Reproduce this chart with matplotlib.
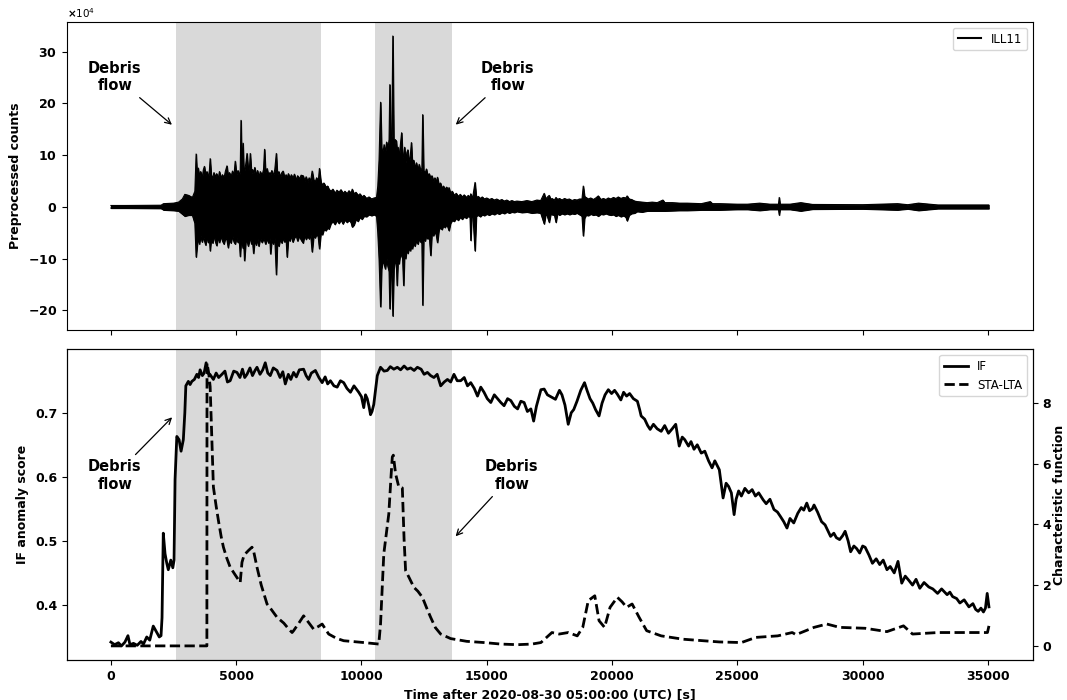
import numpy as np
import matplotlib
matplotlib.use('Agg')
import matplotlib.pyplot as plt
from matplotlib.lines import Line2D

# --- seismic trace envelope, counts x 1e4 (upper / lower edge) ---
trace_t = [0, 600, 2000, 2100, 2500, 2700, 2850, 2950, 3100, 3250,
           3350, 3400, 3440, 3480, 3530, 3580, 3640, 3690, 3730, 3780,
           3830, 3880, 3930, 3960, 4000, 4060, 4110, 4160, 4220, 4280,
           4330, 4390, 4450, 4510, 4570, 4630, 4680, 4730, 4790, 4850,
           4910, 4960, 5010, 5070, 5120, 5160, 5190, 5220, 5270, 5300,
           5330, 5380, 5430, 5480, 5530, 5560, 5610, 5650, 5690, 5740,
           5800, 5850, 5900, 5960, 6030, 6090, 6130, 6170, 6230, 6290,
           6340, 6370, 6420, 6480, 6540, 6600, 6640, 6700, 6760, 6820,
           6870, 6930, 6990, 7030, 7080, 7140, 7200, 7260, 7320, 7390,
           7450, 7520, 7590, 7670, 7730, 7790, 7850, 7910, 7970, 8030,
           8090, 8150, 8210, 8270, 8320, 8380, 8440, 8500, 8580, 8650,
           8700, 8780, 8860, 8940, 9020, 9100, 9180, 9260, 9340, 9420,
           9500, 9580, 9630, 9700, 9780, 9860, 9940, 10020, 10100, 10200,
           10300, 10400, 10500, 10600, 10650, 10700, 10760, 10800, 10850, 10900,
           10950, 11000, 11050, 11100, 11130, 11170, 11210, 11250, 11290, 11340,
           11390, 11420, 11460, 11500, 11550, 11600, 11640, 11680, 11720, 11760,
           11810, 11850, 11900, 11950, 11990, 12030, 12080, 12130, 12190, 12250,
           12300, 12360, 12410, 12440, 12480, 12540, 12590, 12640, 12700, 12760,
           12810, 12870, 12930, 12980, 13030, 13090, 13150, 13210, 13270, 13330,
           13400, 13450, 13490, 13550, 13620, 13700, 13780, 13860, 13940, 14020,
           14100, 14180, 14260, 14330, 14360, 14400, 14450, 14530, 14580, 14660,
           14740, 14820, 14900, 15000, 15100, 15200, 15300, 15400, 15500, 15600,
           15700, 15800, 15900, 16000, 16100, 16200, 16400, 16600, 16800, 17000,
           17150, 17290, 17350, 17400, 17490, 17550, 17600, 17700, 17760, 17820,
           17900, 18000, 18100, 18200, 18300, 18400, 18500, 18600, 18700, 18800,
           18850, 18900, 18960, 19050, 19150, 19250, 19350, 19450, 19550, 19650,
           19750, 19850, 19950, 20050, 20150, 20250, 20350, 20450, 20550, 20600,
           20680, 20780, 20900, 21000, 21200, 21400, 21600, 21800, 22030, 22100,
           22400, 22700, 23000, 23300, 23560, 23920, 24000, 24300, 24600, 25000,
           25400, 25890, 26300, 26640, 26670, 26700, 27100, 27530, 28000, 29000,
           30000, 31390, 31800, 32230, 33000, 34000, 35030]
trace_up = [0.25, 0.25, 0.3, 0.6, 0.7, 0.9, 1.5, 2.4, 2.2, 1.8,
            3.0, 10.2, 6.0, 7.5, 5.8, 6.8, 5.5, 7.2, 7.8, 6.0,
            6.8, 5.6, 7.0, 9.3, 6.2, 5.5, 6.6, 5.8, 6.4, 5.4,
            6.8, 5.6, 6.2, 5.5, 6.9, 7.9, 5.8, 6.6, 5.7, 6.9,
            6.0, 8.8, 6.2, 7.0, 6.0, 7.0, 16.7, 8.0, 12.3, 7.5,
            7.0, 8.2, 10.3, 7.0, 7.6, 10.3, 6.4, 7.2, 6.5, 7.6,
            6.0, 7.0, 5.6, 6.8, 6.0, 7.2, 11.1, 6.6, 7.4, 6.0,
            6.6, 6.2, 7.0, 6.0, 7.2, 10.3, 6.2, 6.8, 5.8, 6.6,
            6.9, 5.6, 6.2, 5.5, 6.4, 5.5, 6.2, 5.4, 6.3, 5.2,
            6.0, 5.4, 6.1, 6.0, 5.0, 5.8, 4.8, 5.6, 5.0, 6.9,
            5.2, 4.8, 5.6, 4.6, 7.4, 4.8, 4.2, 4.6, 3.8, 4.0,
            3.4, 3.0, 3.4, 2.6, 3.2, 2.8, 3.3, 2.6, 3.0, 2.5,
            3.1, 2.6, 3.4, 2.5, 2.8, 2.2, 2.5, 1.9, 2.2, 1.6,
            1.9, 1.5, 1.7, 1.8, 4.0, 9.0, 20.2, 11.5, 10.0, 12.0,
            10.5, 12.5, 11.0, 13.0, 23.6, 12.0, 14.0, 33.0, 11.0, 13.0,
            12.7, 10.5, 11.5, 9.5, 12.0, 14.3, 9.5, 10.0, 11.5, 8.5,
            10.5, 11.0, 8.5, 10.0, 12.4, 8.0, 9.0, 7.5, 8.5, 7.0,
            8.2, 6.8, 7.5, 17.8, 7.0, 6.5, 7.3, 6.0, 6.4, 5.5,
            6.0, 5.0, 5.6, 4.8, 5.7, 4.2, 4.6, 3.6, 4.0, 3.4,
            3.8, 3.0, 3.7, 2.6, 3.0, 2.2, 2.6, 2.0, 2.4, 1.9,
            2.3, 1.8, 2.2, 1.8, 2.5, 1.8, 2.2, 4.7, 1.8, 2.0,
            1.6, 1.9, 1.5, 1.7, 1.4, 1.6, 1.3, 1.5, 1.2, 1.4,
            1.1, 1.3, 1.0, 1.2, 1.0, 1.1, 1.0, 1.2, 1.0, 1.3,
            1.2, 2.6, 1.4, 1.8, 2.2, 1.4, 1.6, 1.3, 1.8, 1.4,
            1.6, 1.3, 1.6, 1.4, 1.5, 1.2, 1.4, 1.3, 1.5, 1.5,
            4.0, 2.0, 1.8, 1.5, 1.7, 1.4, 1.7, 2.1, 1.4, 1.6,
            1.4, 1.7, 1.5, 1.8, 1.6, 1.9, 1.6, 1.8, 1.7, 2.1,
            1.5, 1.4, 1.1, 1.0, 0.9, 0.8, 0.9, 0.8, 1.3, 0.8,
            0.8, 0.7, 0.7, 0.65, 0.6, 1.0, 0.6, 0.6, 0.55, 0.5,
            0.5, 0.7, 0.5, 0.5, 1.8, 0.5, 0.5, 0.8, 0.45, 0.42,
            0.4, 0.6, 0.4, 0.7, 0.35, 0.35, 0.35]
trace_lo = [-0.25, -0.25, -0.3, -0.6, -0.7, -0.8, -1.4, -1.8, -1.6, -1.6,
            -3.2, -9.7, -7.5, -6.0, -7.2, -5.5, -6.8, -5.8, -6.5, -7.4,
            -5.6, -6.9, -6.0, -8.5, -6.2, -7.0, -5.4, -6.6, -7.5, -5.8,
            -6.9, -5.6, -6.6, -7.2, -6.0, -6.4, -7.9, -6.2, -7.0, -5.6,
            -6.8, -7.2, -6.0, -6.9, -6.3, -9.6, -7.0, -6.6, -8.0, -7.0,
            -10.4, -6.8, -6.5, -7.6, -6.4, -6.0, -7.2, -6.6, -9.0, -6.4,
            -7.4, -6.2, -7.6, -6.0, -6.9, -6.2, -6.5, -7.2, -6.1, -7.0,
            -6.0, -9.1, -6.4, -7.2, -6.0, -13.1, -6.8, -7.6, -6.2, -7.0,
            -6.0, -6.8, -6.2, -9.7, -6.0, -6.6, -5.6, -6.8, -6.0, -5.5,
            -6.6, -5.6, -6.4, -7.0, -5.4, -6.3, -5.6, -6.2, -5.4, -8.7,
            -5.6, -6.0, -5.2, -5.8, -8.1, -5.0, -5.4, -4.4, -4.6, -4.0,
            -4.3, -3.2, -2.8, -3.4, -2.6, -3.2, -2.5, -3.3, -2.5, -3.0,
            -2.6, -3.0, -3.9, -3.5, -2.4, -2.8, -2.0, -2.4, -1.8, -1.9,
            -1.5, -1.7, -1.5, -1.8, -5.0, -10.0, -19.3, -12.0, -10.5, -11.0,
            -12.0, -10.0, -11.5, -12.5, -19.7, -12.0, -13.0, -21.1, -12.0, -10.5,
            -11.0, -15.2, -9.5, -11.0, -9.0, -9.5, -10.0, -15.2, -8.5, -10.0,
            -8.0, -9.0, -8.0, -8.5, -7.5, -8.1, -6.8, -7.6, -6.5, -7.2,
            -6.2, -6.8, -7.0, -19.0, -6.0, -6.6, -5.5, -6.2, -5.4, -9.4,
            -5.0, -5.6, -4.8, -5.4, -6.9, -4.4, -4.0, -4.4, -3.6, -4.0,
            -3.4, -4.0, -4.6, -3.2, -2.6, -2.8, -2.2, -2.6, -2.0, -2.4,
            -1.9, -2.2, -1.8, -2.0, -6.5, -1.8, -2.0, -8.5, -1.8, -1.6,
            -1.9, -1.5, -1.7, -1.4, -1.6, -1.3, -1.5, -1.2, -1.4, -1.1,
            -1.3, -1.0, -1.2, -1.0, -1.1, -0.9, -1.1, -1.0, -1.2, -1.1,
            -1.2, -3.3, -1.5, -1.6, -3.0, -1.4, -1.5, -1.6, -3.0, -1.3,
            -1.6, -1.3, -1.5, -1.3, -1.5, -1.3, -1.4, -1.2, -1.5, -1.8,
            -5.6, -2.2, -1.6, -1.7, -1.4, -1.6, -1.5, -1.8, -1.4, -1.5,
            -1.3, -1.5, -1.6, -1.5, -1.8, -1.6, -1.9, -1.7, -2.0, -2.7,
            -1.6, -1.3, -1.2, -0.9, -1.0, -0.8, -0.8, -0.8, -0.8, -0.8,
            -0.75, -0.7, -0.7, -0.65, -0.6, -0.6, -0.6, -0.6, -0.55, -0.5,
            -0.5, -0.7, -0.5, -0.5, -1.6, -0.5, -0.5, -0.8, -0.45, -0.42,
            -0.4, -0.6, -0.4, -0.7, -0.35, -0.35, -0.35]

# --- Isolation forest anomaly score ---
if_t = [0, 150, 300, 420, 560, 680, 760, 900, 1050, 1200, 1300, 1430, 1550, 1690, 1830, 1930, 2000,
        2040, 2090, 2160, 2230, 2290, 2390, 2470, 2520, 2560, 2630, 2720, 2800, 2890, 2950, 2990,
        3090, 3160, 3230, 3330, 3430, 3500, 3560, 3650, 3720, 3800, 3860, 3950, 4090, 4200, 4300,
        4430, 4550, 4650, 4760, 4900, 5030, 5150, 5250, 5340, 5430, 5550, 5650, 5750, 5830, 5950,
        6060, 6160, 6260, 6360, 6480, 6630, 6750, 6860, 6960, 7080, 7180, 7290, 7400, 7520, 7690,
        7790, 7890, 8000, 8160, 8300, 8430, 8550, 8650, 8760, 8900, 9030, 9160, 9290, 9420, 9560,
        9700, 9890, 10000, 10090, 10160, 10230, 10300, 10360, 10420, 10490, 10560, 10630, 10760,
        10900, 11030, 11150, 11290, 11430, 11560, 11700, 11830, 11960, 12100, 12230, 12380, 12500,
        12630, 12760, 12890, 13020, 13160, 13300, 13430, 13560, 13690, 13820, 13960, 14100, 14230,
        14360, 14500, 14630, 14760, 14890, 15020, 15160, 15300, 15430, 15560, 15690, 15830, 15960,
        16100, 16230, 16360, 16490, 16620, 16760, 16870, 16980, 17090, 17160, 17290, 17420, 17560,
        17740, 17900, 18000, 18120, 18250, 18370, 18470, 18600, 18750, 18900, 19000, 19120, 19230,
        19340, 19480, 19600, 19720, 19850, 19980, 20100, 20210, 20350, 20460, 20580, 20700, 20850,
        21010, 21100, 21160, 21300, 21420, 21520, 21650, 21800, 21960, 22100, 22250, 22400, 22540,
        22680, 22800, 22900, 23050, 23150, 23270, 23400, 23560, 23700, 23850, 23990, 24100, 24280,
        24430, 24550, 24650, 24760, 24870, 24950, 25050, 25160, 25300, 25450, 25590, 25720, 25850,
        26030, 26150, 26300, 26460, 26600, 26720, 26850, 26980, 27100, 27250, 27410, 27550, 27650,
        27770, 27880, 27990, 28060, 28200, 28360, 28500, 28620, 28720, 28850, 28950, 29080, 29200,
        29300, 29420, 29520, 29650, 29760, 29880, 30000, 30100, 30250, 30390, 30540, 30680, 30820,
        30970, 31100, 31260, 31410, 31560, 31700, 31850, 31990, 32130, 32280, 32450, 32640, 32800,
        32990, 33150, 33370, 33480, 33590, 33750, 33880, 34050, 34240, 34400, 34510, 34610, 34720,
        34820, 34900, 34970, 35040]
if_score = [0.342, 0.338, 0.341, 0.336, 0.342, 0.352, 0.338, 0.340, 0.337, 0.343, 0.339, 0.350, 0.345,
            0.367, 0.357, 0.350, 0.352, 0.380, 0.512, 0.480, 0.465, 0.455, 0.470, 0.458, 0.470, 0.596,
            0.663, 0.658, 0.640, 0.658, 0.700, 0.742, 0.749, 0.744, 0.749, 0.752, 0.760, 0.755, 0.767,
            0.758, 0.762, 0.778, 0.762, 0.760, 0.752, 0.762, 0.755, 0.760, 0.765, 0.748, 0.750, 0.765,
            0.763, 0.755, 0.768, 0.755, 0.760, 0.770, 0.758, 0.766, 0.771, 0.760, 0.767, 0.778, 0.762,
            0.758, 0.770, 0.766, 0.755, 0.764, 0.745, 0.760, 0.752, 0.763, 0.756, 0.767, 0.768, 0.758,
            0.752, 0.762, 0.766, 0.755, 0.747, 0.756, 0.745, 0.750, 0.742, 0.740, 0.750, 0.747, 0.738,
            0.732, 0.742, 0.732, 0.725, 0.708, 0.728, 0.722, 0.710, 0.697, 0.702, 0.713, 0.735, 0.758,
            0.771, 0.765, 0.766, 0.772, 0.768, 0.771, 0.767, 0.773, 0.768, 0.770, 0.766, 0.771, 0.768,
            0.760, 0.763, 0.758, 0.755, 0.760, 0.742, 0.748, 0.752, 0.748, 0.760, 0.750, 0.750, 0.755,
            0.742, 0.747, 0.738, 0.726, 0.740, 0.732, 0.722, 0.716, 0.728, 0.722, 0.716, 0.711, 0.722,
            0.719, 0.710, 0.706, 0.718, 0.716, 0.702, 0.706, 0.687, 0.710, 0.726, 0.736, 0.737, 0.728,
            0.725, 0.721, 0.735, 0.728, 0.712, 0.682, 0.700, 0.705, 0.718, 0.735, 0.747, 0.735, 0.722,
            0.715, 0.705, 0.695, 0.715, 0.728, 0.736, 0.730, 0.735, 0.729, 0.720, 0.732, 0.726, 0.730,
            0.722, 0.718, 0.705, 0.695, 0.690, 0.680, 0.674, 0.682, 0.675, 0.671, 0.680, 0.668, 0.675,
            0.682, 0.648, 0.662, 0.658, 0.648, 0.655, 0.643, 0.650, 0.637, 0.640, 0.625, 0.614, 0.625,
            0.611, 0.567, 0.590, 0.585, 0.575, 0.541, 0.565, 0.578, 0.570, 0.582, 0.575, 0.580, 0.570,
            0.575, 0.564, 0.558, 0.565, 0.549, 0.545, 0.538, 0.530, 0.520, 0.535, 0.528, 0.543, 0.552,
            0.548, 0.559, 0.547, 0.550, 0.556, 0.545, 0.530, 0.525, 0.515, 0.507, 0.512, 0.505, 0.502,
            0.508, 0.515, 0.500, 0.483, 0.492, 0.488, 0.481, 0.492, 0.490, 0.478, 0.465, 0.472, 0.463,
            0.470, 0.455, 0.460, 0.450, 0.468, 0.434, 0.445, 0.438, 0.431, 0.440, 0.426, 0.435, 0.428,
            0.425, 0.418, 0.425, 0.416, 0.420, 0.413, 0.410, 0.403, 0.408, 0.397, 0.402, 0.393, 0.390,
            0.395, 0.389, 0.395, 0.418, 0.397]

# --- STA/LTA characteristic function ---
sta_t = [0, 3830, 3835, 3900, 3960, 4090, 4200, 4290, 4400, 4490, 4620, 4760, 4950, 5160, 5230, 5300,
         5360, 5500, 5630, 5700, 5830, 6000, 6230, 6400, 6630, 6900, 7100, 7230, 7290, 7500, 7690,
         7890, 8090, 8300, 8430, 8690, 9000, 9290, 9700, 10090, 10690, 10760, 10890, 11090, 11180,
         11230, 11270, 11360, 11490, 11630, 11700, 11760, 11900, 12090, 12250, 12430, 12600, 12760,
         12950, 13160, 13560, 14200, 14890, 15560, 16230, 16800, 17160, 17600, 17890, 18250, 18610,
         18830, 19050, 19310, 19480, 19700, 19920, 20210, 20400, 20580, 20800, 21080, 21380, 21960,
         22830, 24280, 25160, 25740, 26610, 27190, 27340, 28060, 28570, 29080, 30100, 30970, 31630,
         31990, 33010, 33880, 34980, 35040]
sta_cf = [0.0, 0.0, 9.31, 9.0, 8.54, 5.23, 4.6, 4.13, 3.6, 3.25, 2.9, 2.59, 2.35, 2.09, 2.75, 2.95,
          3.03, 3.15, 3.25, 3.1, 2.59, 2.0, 1.38, 1.2, 0.94, 0.75, 0.55, 0.44, 0.5, 0.75, 0.99,
          0.77, 0.55, 0.65, 0.72, 0.39, 0.25, 0.17, 0.14, 0.11, 0.06, 0.72, 3.03, 4.35, 5.6,
          6.22, 6.28, 5.67, 5.23, 5.2, 3.5, 2.48, 2.25, 1.93, 1.8, 1.6, 1.25, 0.94,
          0.6, 0.39, 0.24, 0.15, 0.11, 0.06, 0.04, 0.06, 0.11, 0.44, 0.39, 0.44, 0.33,
          0.61, 1.49, 1.65, 0.83, 0.61, 1.27, 1.6, 1.45, 1.27, 1.38, 0.94, 0.5, 0.33,
          0.22, 0.13, 0.11, 0.28, 0.33, 0.44, 0.37, 0.61, 0.72, 0.61, 0.58, 0.47, 0.66,
          0.39, 0.44, 0.44, 0.44, 0.66]

debris_spans = [(2600, 8400), (10520, 13600)]

plt.rcParams['font.size'] = 9
plt.rcParams['font.weight'] = 'bold'
plt.rcParams['axes.labelweight'] = 'bold'

fig = plt.figure(figsize=(10.67, 7.0), dpi=100)
ax1 = fig.add_axes([0.0628, 0.5286, 0.9052, 0.44])
ax2 = fig.add_axes([0.0628, 0.0571, 0.9052, 0.4443], sharex=ax1)
ax3 = ax2.twinx()

t = np.array(trace_t)
up = np.array(trace_up) * 1e4
lo = np.array(trace_lo) * 1e4

for a, b in debris_spans:
    ax1.axvspan(a, b, color='0.85', lw=0, zorder=0)
    ax2.axvspan(a, b, color='0.85', lw=0, zorder=0)

ax1.fill_between(t, lo, up, color='black', lw=0.8)
ax1.plot(t, up, color='black', lw=0.8)
ax1.plot(t, lo, color='black', lw=0.8)
ax1.set_ylabel('Preprocessed counts')
ax1.ticklabel_format(axis='y', style='sci', scilimits=(4, 4), useMathText=True)
ax1.yaxis.get_offset_text().set_fontweight('normal')
ax1.yaxis.get_offset_text().set_fontsize(7.5)
ax1.tick_params(labelbottom=False)
ax1.legend([Line2D([], [], color='black', lw=1.5)], ['ILL11'], loc='upper right',
           prop={'weight': 'normal', 'size': 8.5})

arrow = dict(arrowstyle='->', color='black', lw=0.9)
ax1.annotate('Debris\nflow', xy=(2520, 15.5e4), xytext=(160, 25.1e4), ha='center', va='center',
             fontsize=10.5, fontweight='bold', arrowprops=arrow)
ax1.annotate('Debris\nflow', xy=(13680, 15.5e4), xytext=(15840, 25.1e4), ha='center', va='center',
             fontsize=10.5, fontweight='bold', arrowprops=arrow)

l1, = ax2.plot(if_t, if_score, color='black', lw=2, label='IF')
l2, = ax3.plot(sta_t, sta_cf, color='black', lw=2, ls='--', label='STA-LTA')
ax2.set_ylim(0.314, 0.7995)
ax2.set_ylabel('IF anomaly score')
ax3.set_ylabel('Characteristic function', labelpad=1)
ax2.set_xlabel('Time after 2020-08-30 05:00:00 (UTC) [s]')
ax3.legend([l1, l2], ['IF', 'STA-LTA'], loc='upper right', prop={'weight': 'normal', 'size': 8.5})

ax2.annotate('Debris\nflow', xy=(2520, 0.696), xytext=(160, 0.602), ha='center', va='center',
             fontsize=10.5, fontweight='bold', arrowprops=arrow)
ax2.annotate('Debris\nflow', xy=(13680, 0.504), xytext=(16000, 0.602), ha='center', va='center',
             fontsize=10.5, fontweight='bold', arrowprops=arrow)

ax1.set_xticks([0, 5000, 10000, 15000, 20000, 25000, 30000, 35000])

fig.savefig('out.png', dpi=100)
